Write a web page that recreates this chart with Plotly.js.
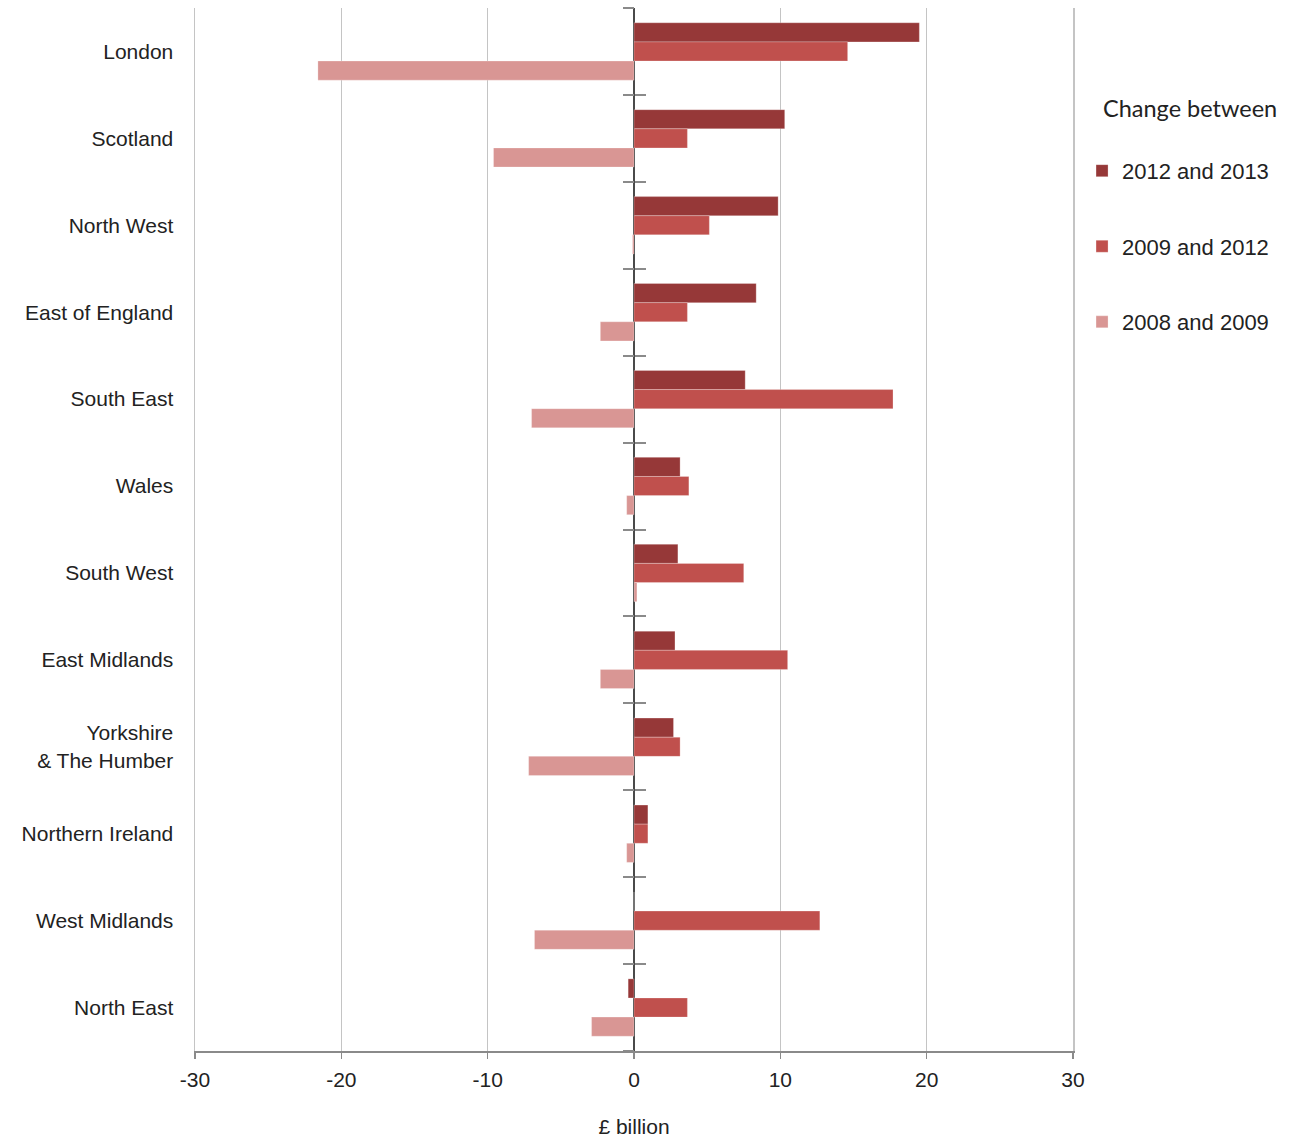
<!DOCTYPE html>
<html>
<head>
<meta charset="utf-8">
<script src="https://cdn.plot.ly/plotly-3.0.1.min.js"></script>
<style>html,body{margin:0;padding:0;background:#fff;}#chart{width:1297px;height:1138px;}</style>
</head>
<body>
<div id="chart"></div>
<script>
const regions = ["London","Scotland","North West","East of England","South East","Wales","South West","East Midlands","Yorkshire<br>& The Humber","Northern Ireland","West Midlands","North East"];
const change2012to2013 = [19.5, 10.3, 9.85, 8.35, 7.6, 3.15, 3.0, 2.8, 2.7, 0.95, 0, -0.4];
const change2009to2012 = [14.6, 3.65, 5.15, 3.65, 17.7, 3.75, 7.5, 10.5, 3.15, 0.95, 12.7, 3.65];
const change2008to2009 = [-21.6, -9.6, -0.1, -2.3, -7.0, -0.5, 0.2, -2.3, -7.2, -0.5, -6.8, -2.9];
const seriesNames = ["2012 and 2013","2009 and 2012","2008 and 2009"];
const seriesColors = ["#963838","#c0504d","#d99694"];
const xTicks = [-30,-20,-10,0,10,20,30];
const legendTitle = "Change between";

const allSeries = [change2012to2013, change2009to2012, change2008to2009];
const traces = allSeries.map((vals, i) => ({
  type: 'bar', orientation: 'h', x: vals, y: regions, name: seriesNames[i],
  legendgroup: 'g' + i,
  marker: {color: seriesColors[i], line: {color: 'rgba(255,255,255,0.5)', width: 0.5}},
  hoverinfo: 'x+y'
}));

const boundaries = regions.map((_, i) => i - 0.5).concat([regions.length - 0.5]);
const font = {family: 'Liberation Sans, Arial, sans-serif', size: 21, color: '#222'};

const tickAxis = (dir) => ({
  overlaying: 'y', anchor: 'free', position: 0.5, type: 'linear',
  range: [regions.length - 0.5, -0.5], tickmode: 'array', tickvals: boundaries,
  showticklabels: false, ticks: dir, ticklen: 11, tickwidth: 2, tickcolor: '#8a8a8a',
  showgrid: false, zeroline: false, showline: false
});

const layout = {
  width: 1297, height: 1138,
  margin: {l: 195, r: 224, t: 8, b: 87},
  paper_bgcolor: '#fff', plot_bgcolor: '#fff',
  barmode: 'group', bargap: 0.34, bargroupgap: 0,
  font: font,
  xaxis: {
    range: [-30, 30], tickmode: 'array', tickvals: xTicks, ticktext: xTicks.map(String),
    showgrid: true, gridcolor: '#c4c4c4', gridwidth: 1.5,
    zeroline: true, zerolinecolor: '#4a4a4a', zerolinewidth: 2,
    showline: true, linecolor: '#8a8a8a', linewidth: 1.5,
    ticks: 'outside', ticklen: 6, tickcolor: '#8a8a8a', tickwidth: 1.5,
    ticklabelstandoff: 3,
    tickfont: {family: 'Liberation Sans, Arial, sans-serif', size: 21, color: '#222'},
    title: {text: '£ billion', font: {family: 'Liberation Sans, Arial, sans-serif', size: 21, color: '#222'}, standoff: 29}
  },
  yaxis: {
    type: 'category', autorange: 'reversed', showgrid: false, zeroline: false,
    showline: true, mirror: true, linecolor: '#c4c4c4', linewidth: 1.5,
    ticks: '', ticklabelstandoff: 16,
    tickfont: {family: 'Liberation Sans, Arial, sans-serif', size: 21, color: '#222'}
  },
  yaxis2: tickAxis('outside'),
  yaxis3: tickAxis('inside'),
  legend: {
    x: 1.0103, y: 0.864, xanchor: 'left', yanchor: 'top',
    traceorder: 'grouped', tracegroupgap: 44,
    font: {family: 'Liberation Sans, Arial, sans-serif', size: 22, color: '#222'},
    itemwidth: 30, bgcolor: 'rgba(0,0,0,0)'
  },
  annotations: [{
    text: legendTitle, xref: 'paper', yref: 'paper', x: 1.032, y: 0.904,
    xanchor: 'left', yanchor: 'middle', showarrow: false,
    font: {family: 'Lato, Open Sans, sans-serif', size: 23.5, color: '#222'}
  }],
  showlegend: true
};

traces.push({type: 'scatter', x: [null], y: [null], yaxis: 'y2', showlegend: false, hoverinfo: 'skip'});
traces.push({type: 'scatter', x: [null], y: [null], yaxis: 'y3', showlegend: false, hoverinfo: 'skip'});

Plotly.newPlot('chart', traces, layout, {displayModeBar: false, staticPlot: true});
</script>
</body>
</html>
